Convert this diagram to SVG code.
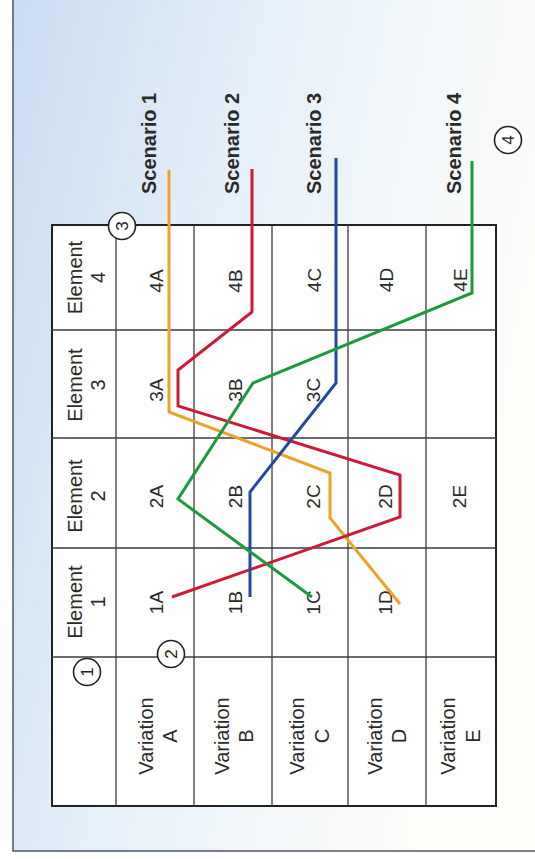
<svg xmlns="http://www.w3.org/2000/svg" width="535" height="859" viewBox="0 0 535 859">
  <defs>
    <linearGradient id="bg" x1="0" y1="0" x2="1" y2="0.35">
      <stop offset="0" stop-color="#c9dcf1"/>
      <stop offset="0.45" stop-color="#e6f0f9"/>
      <stop offset="1" stop-color="#fdfdf9"/>
    </linearGradient>
    <style>
      .t { font-family: "Liberation Sans", Arial, sans-serif; font-size: 20px; fill: #2a2a2a; text-anchor: middle; }
      .c { font-family: "Liberation Sans", Arial, sans-serif; font-size: 19px; fill: #2a2a2a; text-anchor: middle; }
      .s { font-family: "Liberation Sans", Arial, sans-serif; font-size: 20px; font-weight: bold; fill: #2a2a2a; text-anchor: start; }
      .n { font-family: "Liberation Sans", Arial, sans-serif; font-size: 17px; fill: #222; text-anchor: middle; }
      .grid { stroke: #3c3c3c; stroke-width: 1.3; fill: none; }
      .outer { stroke: #222; stroke-width: 2; fill: #ffffff; }
      .circ { stroke: #222; stroke-width: 1.6; fill: #ffffff; }
      .ln { fill: none; stroke-width: 3; stroke-linejoin: miter; stroke-linecap: butt; }
    </style>
  </defs>

  <g id="background">
    <rect x="0" y="0" width="535" height="859" fill="#ffffff"/>
    <rect x="13" y="0" width="522" height="851" fill="url(#bg)"/>
    <path d="M13,0 V851 H535" fill="none" stroke="#4f5566" stroke-width="1.5"/>
  </g>

  <g id="table">
    <rect class="outer" x="52" y="225" width="444" height="581"/>
    <path class="grid" d="M116,225 V806 M194,225 V806 M272,225 V806 M348,225 V806 M426,225 V806 M52,330 H496 M52,438 H496 M52,548 H496 M52,657 H496"/>
  </g>

  <g id="element-labels">
    <g id="element-4">
      <text class="t" transform="translate(82,277.5) rotate(-90)">Element</text>
      <text class="t" transform="translate(105,277.5) rotate(-90)">4</text>
    </g>
    <g id="element-3">
      <text class="t" transform="translate(82,385) rotate(-90)">Element</text>
      <text class="t" transform="translate(105,385) rotate(-90)">3</text>
    </g>
    <g id="element-2">
      <text class="t" transform="translate(82,496) rotate(-90)">Element</text>
      <text class="t" transform="translate(105,496) rotate(-90)">2</text>
    </g>
    <g id="element-1">
      <text class="t" transform="translate(82,602) rotate(-90)">Element</text>
      <text class="t" transform="translate(105,602) rotate(-90)">1</text>
    </g>
  </g>

  <g id="variation-labels">
    <g id="variation-a">
      <text class="t" transform="translate(153,736) rotate(-90)">Variation</text>
      <text class="t" transform="translate(177,736) rotate(-90)">A</text>
    </g>
    <g id="variation-b">
      <text class="t" transform="translate(229,736) rotate(-90)">Variation</text>
      <text class="t" transform="translate(253,736) rotate(-90)">B</text>
    </g>
    <g id="variation-c">
      <text class="t" transform="translate(304,736) rotate(-90)">Variation</text>
      <text class="t" transform="translate(329,736) rotate(-90)">C</text>
    </g>
    <g id="variation-d">
      <text class="t" transform="translate(382,736) rotate(-90)">Variation</text>
      <text class="t" transform="translate(406,736) rotate(-90)">D</text>
    </g>
    <g id="variation-e">
      <text class="t" transform="translate(455,736) rotate(-90)">Variation</text>
      <text class="t" transform="translate(480,736) rotate(-90)">E</text>
    </g>
  </g>

  <g id="cells">
    <g id="cell-4A"><text class="c" transform="translate(163,281) rotate(-90)">4A</text></g>
    <g id="cell-4B"><text class="c" transform="translate(242,281) rotate(-90)">4B</text></g>
    <g id="cell-4C"><text class="c" transform="translate(321,280) rotate(-90)">4C</text></g>
    <g id="cell-4D"><text class="c" transform="translate(393,280) rotate(-90)">4D</text></g>
    <g id="cell-4E"><text class="c" transform="translate(467,280) rotate(-90)">4E</text></g>
    <g id="cell-3A"><text class="c" transform="translate(163,390) rotate(-90)">3A</text></g>
    <g id="cell-3B"><text class="c" transform="translate(242,390) rotate(-90)">3B</text></g>
    <g id="cell-3C"><text class="c" transform="translate(320,390) rotate(-90)">3C</text></g>
    <g id="cell-2A"><text class="c" transform="translate(163,496.5) rotate(-90)">2A</text></g>
    <g id="cell-2B"><text class="c" transform="translate(242,496.5) rotate(-90)">2B</text></g>
    <g id="cell-2C"><text class="c" transform="translate(320,496.5) rotate(-90)">2C</text></g>
    <g id="cell-2D"><text class="c" transform="translate(392,496.5) rotate(-90)">2D</text></g>
    <g id="cell-2E"><text class="c" transform="translate(466,496.5) rotate(-90)">2E</text></g>
    <g id="cell-1A"><text class="c" transform="translate(163,602.5) rotate(-90)">1A</text></g>
    <g id="cell-1B"><text class="c" transform="translate(242,602.5) rotate(-90)">1B</text></g>
    <g id="cell-1C"><text class="c" transform="translate(320,602.5) rotate(-90)">1C</text></g>
    <g id="cell-1D"><text class="c" transform="translate(392,602.5) rotate(-90)">1D</text></g>
  </g>

  <g id="connectors">
    <path id="scenario-1-line" class="ln" stroke="#eea229" d="M169,170 V412 L330,473 V518 L400,604"/>
    <path id="scenario-2-line" class="ln" stroke="#cf1a36" d="M252,169 V312 L178,370 V406 L400,475 V517 L172,597"/>
    <path id="scenario-3-line" class="ln" stroke="#1f4aa0" d="M336,158 V383 L250,492 V597"/>
    <path id="scenario-4-line" class="ln" stroke="#1e9a3e" d="M472,161 V293 L253,383 L178,499 L312,597"/>
  </g>

  <g id="scenario-labels">
    <g id="scenario-1"><text class="s" transform="translate(156,194) rotate(-90)">Scenario 1</text></g>
    <g id="scenario-2"><text class="s" transform="translate(239,194) rotate(-90)">Scenario 2</text></g>
    <g id="scenario-3"><text class="s" transform="translate(321,194) rotate(-90)">Scenario 3</text></g>
    <g id="scenario-4"><text class="s" transform="translate(461,194) rotate(-90)">Scenario 4</text></g>
  </g>

  <g id="callouts">
    <g id="callout-1">
      <circle class="circ" cx="87" cy="672" r="13.5"/>
      <text class="n" transform="translate(93,672) rotate(-90)">1</text>
    </g>
    <g id="callout-2">
      <circle class="circ" cx="171" cy="654" r="13.5"/>
      <text class="n" transform="translate(177,654) rotate(-90)">2</text>
    </g>
    <g id="callout-3">
      <circle class="circ" cx="122" cy="226" r="13.5"/>
      <text class="n" transform="translate(128,226) rotate(-90)">3</text>
    </g>
    <g id="callout-4">
      <circle class="circ" cx="508" cy="140" r="13.5"/>
      <text class="n" transform="translate(514,140) rotate(-90)">4</text>
    </g>
  </g>
</svg>
